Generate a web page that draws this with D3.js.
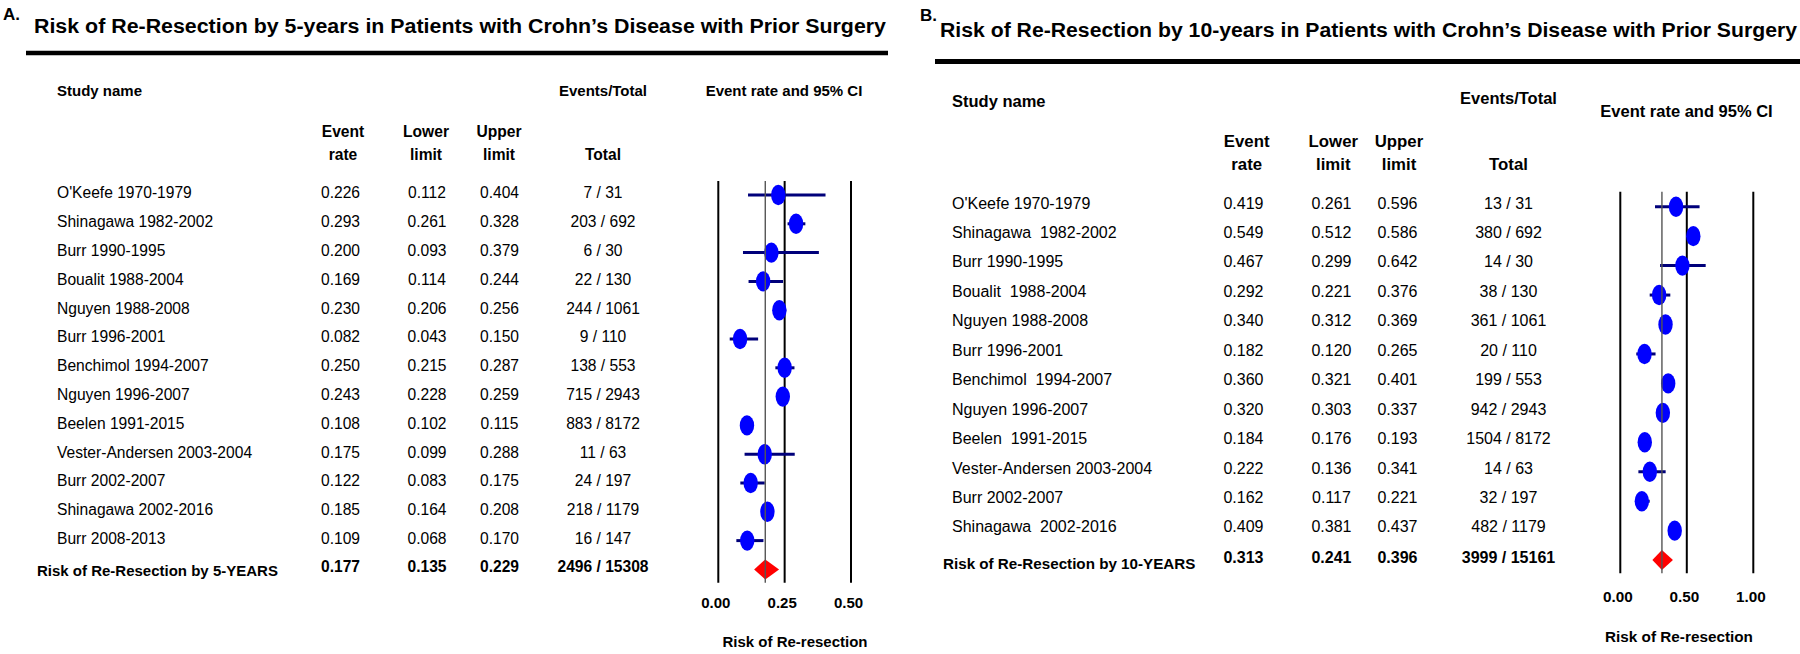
<!DOCTYPE html>
<html><head><meta charset="utf-8">
<script src="https://cdn.jsdelivr.net/npm/d3@7"></script>
<style>
body{margin:0;background:#fff}
text{font-family:"Liberation Sans",Arial,Helvetica,sans-serif;white-space:pre;fill:#000}
</style>
</head><body>
<svg id="c" width="1800" height="654"></svg>
<script>
// ---------- DATA: panel A (5 years) ----------
const names5 = ["O'Keefe 1970-1979","Shinagawa 1982-2002","Burr 1990-1995","Boualit 1988-2004","Nguyen 1988-2008","Burr 1996-2001","Benchimol 1994-2007","Nguyen 1996-2007","Beelen 1991-2015","Vester-Andersen 2003-2004","Burr 2002-2007","Shinagawa 2002-2016","Burr 2008-2013"];
const rate5  = [0.226,0.293,0.200,0.169,0.230,0.082,0.250,0.243,0.108,0.175,0.122,0.185,0.109];
const lower5 = [0.112,0.261,0.093,0.114,0.206,0.043,0.215,0.228,0.102,0.099,0.083,0.164,0.068];
const upper5 = [0.404,0.328,0.379,0.244,0.256,0.150,0.287,0.259,0.115,0.288,0.175,0.208,0.170];
const events5 = ["7 / 31","203 / 692","6 / 30","22 / 130","244 / 1061","9 / 110","138 / 553","715 / 2943","883 / 8172","11 / 63","24 / 197","218 / 1179","16 / 147"];
const summary5 = {label:"Risk of Re-Resection by 5-YEARS", rate:0.177, lower:0.135, upper:0.229, events:"2496 / 15308"};
const ticks5 = [0, 0.25, 0.5];
const tickLabels5 = ["0.00","0.25","0.50"];
const title5 = "Risk of Re-Resection by 5-years in Patients with Crohn\u2019s Disease with Prior Surgery";

// ---------- DATA: panel B (10 years) ----------
const names10 = ["O'Keefe 1970-1979","Shinagawa  1982-2002","Burr 1990-1995","Boualit  1988-2004","Nguyen 1988-2008","Burr 1996-2001","Benchimol  1994-2007","Nguyen 1996-2007","Beelen  1991-2015","Vester-Andersen 2003-2004","Burr 2002-2007","Shinagawa  2002-2016"];
const rate10  = [0.419,0.549,0.467,0.292,0.340,0.182,0.360,0.320,0.184,0.222,0.162,0.409];
const lower10 = [0.261,0.512,0.299,0.221,0.312,0.120,0.321,0.303,0.176,0.136,0.117,0.381];
const upper10 = [0.596,0.586,0.642,0.376,0.369,0.265,0.401,0.337,0.193,0.341,0.221,0.437];
const events10 = ["13 / 31","380 / 692","14 / 30","38 / 130","361 / 1061","20 / 110","199 / 553","942 / 2943","1504 / 8172","14 / 63","32 / 197","482 / 1179"];
const summary10 = {label:"Risk of Re-Resection by 10-YEARS", rate:0.313, lower:0.241, upper:0.396, events:"3999 / 15161"};
const ticks10 = [0, 0.5, 1];
const tickLabels10 = ["0.00","0.50","1.00"];
const title10 = "Risk of Re-Resection by 10-years in Patients with Crohn\u2019s Disease with Prior Surgery";

const axisTitle = "Risk of Re-resection";

const svg = d3.select("#c");
const fmt = d3.format(".3f");

function drawPanel(p) {
  const g = svg.append("g");
  // letter + title + rule
  g.append("text").attr("x", p.letterX).attr("y", p.letterY)
    .attr("font-size", 17).attr("font-weight", "bold").text(p.letter);
  g.append("text").attr("x", p.titleX).attr("y", p.titleY)
    .attr("font-size", p.titleSize).attr("font-weight", "bold")
    .attr("textLength", p.titleW).attr("lengthAdjust", "spacingAndGlyphs").text(p.title);
  g.append("line").attr("x1", p.ruleX1).attr("x2", p.ruleX2)
    .attr("y1", p.ruleY).attr("y2", p.ruleY).attr("stroke", "#000").attr("stroke-width", p.ruleW);

  // headers
  const hdr = (txt, x, y, size, anchor) => g.append("text").attr("x", x).attr("y", y)
      .attr("font-size", size).attr("font-weight", "bold")
      .attr("text-anchor", anchor || "middle").text(txt);
  hdr("Study name", p.nameX, p.hdrY1, p.hdrSize, "start");
  hdr("Events/Total", p.colTotal, p.hdrY1e, p.hdrSize);
  hdr("Event rate and 95% CI", p.ciHdrX, p.ciHdrY, p.hdrSize);
  hdr("Event", p.hdrRate, p.hdrY2, p.colHdrSize); hdr("rate", p.hdrRate, p.hdrY3, p.colHdrSize);
  hdr("Lower", p.hdrLower, p.hdrY2, p.colHdrSize); hdr("limit", p.hdrLower, p.hdrY3, p.colHdrSize);
  hdr("Upper", p.hdrUpper, p.hdrY2, p.colHdrSize); hdr("limit", p.hdrUpper, p.hdrY3, p.colHdrSize);
  hdr("Total", p.colTotal, p.hdrY3, p.colHdrSize);

  const n = p.names.length;
  const keys = p.names.map((d, i) => "r" + i).concat(["summary"]);
  const y = d3.scalePoint().domain(keys).range([p.row0, p.row0 + n * p.rowStep]);
  const x = d3.scaleLinear().domain(p.domain).range(p.range);

  const rows = p.names.map((name, i) => ({key: "r" + i, name, rate: p.rate[i], lower: p.lower[i], upper: p.upper[i], events: p.events[i]}));

  // table text
  const bs = p.bodySize;
  const tb = g.append("g");
  rows.forEach(r => {
    const yy = y(r.key) + p.textDy;
    tb.append("text").attr("x", p.nameX).attr("y", yy).attr("font-size", bs).text(r.name);
    tb.append("text").attr("x", p.colRate).attr("y", yy).attr("font-size", bs).attr("text-anchor", "middle").text(fmt(r.rate));
    tb.append("text").attr("x", p.colLower).attr("y", yy).attr("font-size", bs).attr("text-anchor", "middle").text(fmt(r.lower));
    tb.append("text").attr("x", p.colUpper).attr("y", yy).attr("font-size", bs).attr("text-anchor", "middle").text(fmt(r.upper));
    tb.append("text").attr("x", p.colTotal).attr("y", yy).attr("font-size", bs).attr("text-anchor", "middle").text(r.events);
  });
  const s = p.summary;
  const ys = y("summary");
  tb.append("text").attr("x", p.sumLabelX).attr("y", ys + p.sumLabelDy).attr("font-size", p.sumLabelSize)
    .attr("font-weight", "bold").text(s.label);
  [[p.colRate, fmt(s.rate)], [p.colLower, fmt(s.lower)], [p.colUpper, fmt(s.upper)], [p.colTotal, s.events]].forEach(([cx, t]) => {
    tb.append("text").attr("x", cx).attr("y", ys + p.sumValDy).attr("font-size", bs)
      .attr("font-weight", "bold").attr("text-anchor", "middle").text(t);
  });

  // forest plot: reference lines
  const plot = g.append("g");
  plot.selectAll("line.v").data(p.ticks).join("line").attr("class", "v")
    .attr("x1", d => x(d)).attr("x2", d => x(d))
    .attr("y1", p.plotTop).attr("y2", p.plotBottom)
    .attr("stroke", "#000").attr("stroke-width", 2);

  // CI lines
  plot.selectAll("line.ci").data(rows).join("line").attr("class", "ci")
    .attr("x1", d => x(d.lower)).attr("x2", d => x(d.upper))
    .attr("y1", d => y(d.key)).attr("y2", d => y(d.key))
    .attr("stroke", "#00007a").attr("stroke-width", 3);

  // markers
  plot.selectAll("ellipse").data(rows).join("ellipse")
    .attr("cx", d => x(d.rate)).attr("cy", d => y(d.key))
    .attr("rx", 7.2).attr("ry", 10.2)
    .attr("fill", "#0000ff");

  // summary diamond
  const h = 10;
  plot.append("path")
    .attr("d", `M${x(s.lower)},${ys} L${x(s.rate)},${ys - h} L${x(s.upper)},${ys} L${x(s.rate)},${ys + h} Z`)
    .attr("fill", "#ff0000");

  // mean line
  plot.append("line").attr("x1", x(s.rate)).attr("x2", x(s.rate))
    .attr("y1", p.plotTop).attr("y2", p.plotBottom)
    .attr("stroke", "#555").attr("stroke-width", 1.4);

  // axis labels
  const ax = d3.axisBottom(x).tickValues(p.ticks).tickSize(0)
    .tickFormat((d, i) => p.tickLabels[i]);
  const axG = g.append("g").attr("transform", `translate(0,${p.tickY})`).call(ax);
  axG.select(".domain").remove();
  axG.selectAll("text").attr("font-size", p.tickSize).attr("font-weight", "bold")
    .attr("dy", 0).attr("y", 0).attr("dx", -3)
    .style("font-family", '"Liberation Sans",Arial,sans-serif').attr("fill", "#000");
  g.append("text").attr("x", p.axisTitleX).attr("y", p.axisTitleY)
    .attr("font-size", p.tickSize).attr("font-weight", "bold")
    .attr("text-anchor", "middle").text(axisTitle);
}

drawPanel({
  letter: "A.", letterX: 3, letterY: 20,
  title: title5, titleX: 34, titleY: 33, titleW: 852, titleSize: 19.5,
  ruleX1: 26, ruleX2: 888, ruleY: 53, ruleW: 4.5,
  hdrSize: 15, colHdrSize: 15.6, hdrY1: 96, hdrY1e: 96, ciHdrX: 784, ciHdrY: 96, hdrY2: 137, hdrY3: 160,
  hdrRate: 343, hdrLower: 426, hdrUpper: 499,
  nameX: 57, colRate: 340.5, colLower: 427, colUpper: 499.5, colTotal: 603,
  names: names5, rate: rate5, lower: lower5, upper: upper5, events: events5, summary: summary5,
  row0: 195, rowStep: 28.8, textDy: 3.3, bodySize: 15.6,
  sumLabelX: 37, sumLabelDy: 7, sumLabelSize: 15, sumValDy: 2.8,
  domain: [0, 0.5], range: [718.3, 851], ticks: ticks5, tickLabels: tickLabels5,
  plotTop: 181, plotBottom: 582.7, tickY: 608, tickSize: 15,
  axisTitleX: 795, axisTitleY: 646.5
});

drawPanel({
  letter: "B.", letterX: 920, letterY: 21,
  title: title10, titleX: 940, titleY: 37, titleW: 857, titleSize: 19.5,
  ruleX1: 935, ruleX2: 1800, ruleY: 61.5, ruleW: 5,
  hdrSize: 16.5, colHdrSize: 16.8, hdrY1: 106.5, hdrY1e: 104, ciHdrX: 1686.5, ciHdrY: 117, hdrY2: 146.7, hdrY3: 170,
  hdrRate: 1246.7, hdrLower: 1333.3, hdrUpper: 1399,
  nameX: 952, colRate: 1243.5, colLower: 1331.5, colUpper: 1397.5, colTotal: 1508.5,
  names: names10, rate: rate10, lower: lower10, upper: upper10, events: events10, summary: summary10,
  row0: 206.7, rowStep: 29.45, textDy: 1.8, bodySize: 16,
  sumLabelX: 943, sumLabelDy: 9, sumLabelSize: 15.2, sumValDy: 3.3,
  domain: [0, 1], range: [1620.3, 1753.3], ticks: ticks10, tickLabels: tickLabels10,
  plotTop: 191.7, plotBottom: 573.3, tickY: 601.7, tickSize: 15.3,
  axisTitleX: 1679, axisTitleY: 641.7
});
</script>
</body></html>
